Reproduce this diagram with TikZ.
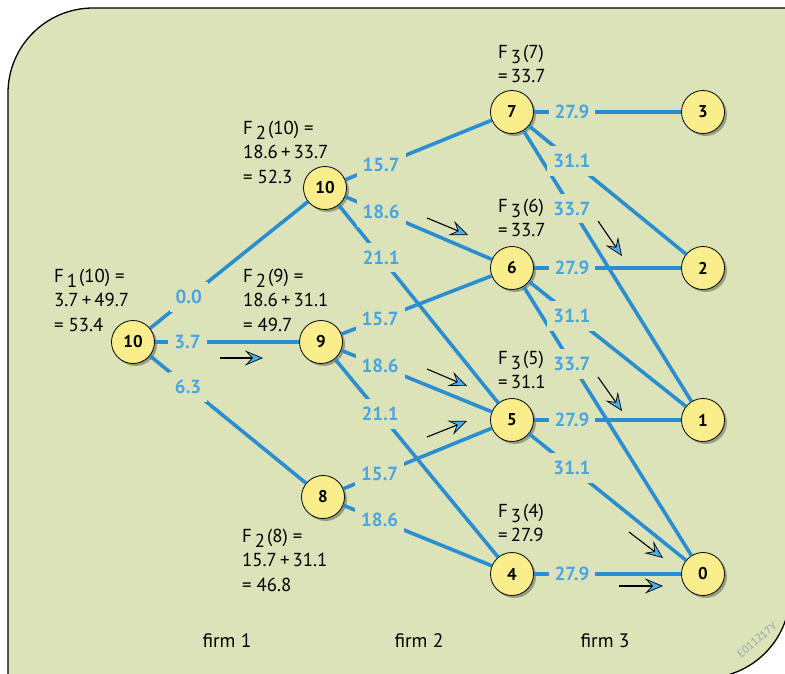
\documentclass[tikz,border=0pt]{standalone}
\usepackage{fontspec}
\setmainfont{PT Sans}
\usetikzlibrary{arrows.meta,shadows,calc}
\definecolor{bg}{HTML}{DCE3B9}
\definecolor{nodefill}{HTML}{FAEE8C}
\definecolor{edgeblue}{HTML}{2A8ED0}
\definecolor{labblue}{HTML}{4AA6E2}
\definecolor{arrowfill}{HTML}{4DAEE8}
\definecolor{codegray}{HTML}{9AA3AE}
\newcommand{\Fsub}[2]{\rule{0pt}{16pt}F\hspace{3pt}\raisebox{-5pt}{#1}\hspace{2pt}(#2)}
\tikzset{
  state/.style={circle, draw=black, line width=0.8pt, fill=nodefill,
    minimum size=43pt, inner sep=0pt,
    font=\bfseries\fontsize{17}{17}\selectfont,
    drop shadow={shadow xshift=2.5pt, shadow yshift=-2.5pt, fill=black, opacity=0.3}},
  edge/.style={draw=edgeblue, line width=3.6pt},
  elab/.style={fill=bg, text=labblue, font=\bfseries\fontsize{19}{19}\selectfont,
    inner xsep=6pt, inner ysep=8pt},
  ftext/.style={anchor=north west, align=left, inner sep=0pt,
    font=\fontsize{18.8}{24.5}\selectfont},
  firmtext/.style={anchor=base, inner sep=0pt, font=\fontsize{19.5}{19.5}\selectfont},
  pointer/.style={draw=black, line width=1.1pt,
    -{Stealth[length=18pt,width=15pt,inset=7pt,color=black,fill=arrowfill,line width=0.7pt]}},
  bgbox/.style={fill=bg, draw=black, line width=1.3pt}
}
\begin{document}
\begin{tikzpicture}[x=1pt,y=-1pt]
\useasboundingbox (0,0) rectangle (785,673);
\fill[white] (0,0) rectangle (785,673);
% background panel
\path[bgbox] (8,700) -- (8,93) .. controls (8,46.1) and (46.1,8) .. (93,8)
  -- (800,8) -- (790,8) -- (790,593) .. controls (790,639.9) and (751.9,678) .. (705,678)
  -- (8,678) -- cycle;

% nodes
\node[state] (a10) at (133,342) {10};
\node[state] (b10) at (325,188) {10};
\node[state] (b9)  at (321,342) {9};
\node[state] (b8)  at (323,497) {8};
\node[state] (c7)  at (512,112) {7};
\node[state] (c6)  at (512,268) {6};
\node[state] (c5)  at (512,420) {5};
\node[state] (c4)  at (512,574) {4};
\node[state] (d3)  at (703,112) {3};
\node[state] (d2)  at (703,268) {2};
\node[state] (d1)  at (703,420) {1};
\node[state] (d0)  at (703,574) {0};

% edges
\foreach \s/\t in {a10/b10,a10/b9,a10/b8,
  b10/c7,b10/c6,b10/c5,b9/c6,b9/c5,b9/c4,b8/c5,b8/c4,
  c7/d3,c7/d2,c7/d1,c6/d2,c6/d1,c6/d0,c5/d1,c5/d0,c4/d0}
  \draw[edge] (\s) -- (\t);

% edge labels
\node[elab] (l1) at ($(a10)!0.29!(b10)$) {0.0};
\node[elab] (l2) at ($(a10)!0.29!(b9)$) {3.7};
\node[elab] (l3) at ($(a10)!0.29!(b8)$) {6.3};
\node[elab] (l4) at ($(b10)!0.30!(c7)$) {15.7};
\node[elab] (l5) at ($(b10)!0.30!(c6)$) {18.6};
\node[elab] (l6) at ($(b10)!0.30!(c5)$) {21.1};
\node[elab] (l7) at ($(b9)!0.31!(c6)$) {15.7};
\node[elab] (l8) at ($(b9)!0.31!(c5)$) {18.6};
\node[elab] (l9) at ($(b9)!0.31!(c4)$) {21.1};
\node[elab] (l10) at ($(b8)!0.30!(c5)$) {15.7};
\node[elab] (l11) at ($(b8)!0.30!(c4)$) {18.6};
\node[elab] (l12) at ($(c7)!0.314!(d3)$) {27.9};
\node[elab] (l13) at ($(c7)!0.314!(d2)$) {31.1};
\node[elab] (l14) at ($(c7)!0.314!(d1)$) {33.7};
\node[elab] (l15) at ($(c6)!0.314!(d2)$) {27.9};
\node[elab] (l16) at ($(c6)!0.314!(d1)$) {31.1};
\node[elab] (l17) at ($(c6)!0.314!(d0)$) {33.7};
\node[elab] (l18) at ($(c5)!0.314!(d1)$) {27.9};
\node[elab] (l19) at ($(c5)!0.314!(d0)$) {31.1};
\node[elab] (l20) at ($(c4)!0.314!(d0)$) {27.9};

% value texts
\node[ftext] (f1)   at (54,266)  {\Fsub{1}{10}\ =\\3.7\,+\,49.7\\= 53.4};
\node[ftext] (f210) at (243,118) {\Fsub{2}{10}\ =\\18.6\,+\,33.7\\= 52.3};
\node[ftext] (f29)  at (243,266) {\Fsub{2}{9}\ =\\18.6\,+\,31.1\\= 49.7};
\node[ftext] (f28)  at (242,526) {\Fsub{2}{8}\ =\\15.7\,+\,31.1\\= 46.8};
\node[ftext] (f37)  at (498,42)  {\Fsub{3}{7}\\=\,33.7};
\node[ftext] (f36)  at (498,196) {\Fsub{3}{6}\\=\,33.7};
\node[ftext] (f35)  at (498,348) {\Fsub{3}{5}\\=\,31.1};
\node[ftext] (f34)  at (498,501) {\Fsub{3}{4}\\=\,27.9};

% firm labels
\node[firmtext] (firm1) at (227,647) {firm 1};
\node[firmtext] (firm2) at (419,647) {firm 2};
\node[firmtext] (firm3) at (605,647) {firm 3};

% code
\node[text=codegray, rotate=41, font=\fontsize{11}{11}\selectfont, inner sep=0pt] (code) at (757,640) {E011217Y};

% pointers
\draw[pointer] (220,358) -- (263,358);
\draw[pointer] (427,218) -- (468,235);
\draw[pointer] (427,369) -- (467,386);
\draw[pointer] (427,437) -- (467,421);
\draw[pointer] (598,221) -- (622,256);
\draw[pointer] (598,377) -- (622,411);
\draw[pointer] (629,532) -- (663,558);
\draw[pointer] (619,586) -- (663,586);
\end{tikzpicture}
\end{document}
